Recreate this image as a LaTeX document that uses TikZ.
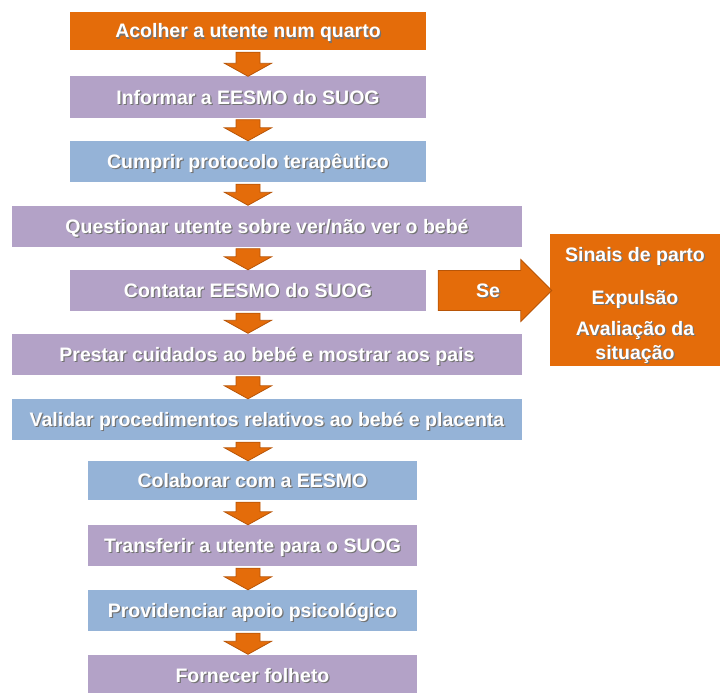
\documentclass[tikz,border=0pt]{standalone}
\usepackage{fontspec}
\setmainfont{Liberation Sans}
\usetikzlibrary{calc}

\definecolor{laranja}{HTML}{E46C0A}
\definecolor{laranjaesc}{HTML}{B85507}
\definecolor{lilas}{HTML}{B3A2C7}
\definecolor{azul}{HTML}{95B3D7}

% texto branco com sombra
\newcommand\shtxt[1]{\makebox[0pt][l]{\hspace{1.2pt}\raisebox{-1.2pt}{\color{black!55}#1}}#1}

% seta larga para baixo entre duas caixas
\newcommand\setabaixo[2]{%
  \path[seta] let \p1=(#1.south), \p2=(#2.north) in
    (236pt,\y1-2pt) -- (260pt,\y1-2pt) -- (260pt,\y2+13pt) -- (271.5pt,\y2+13pt)
    -- (248pt,\y2) -- (224.5pt,\y2+13pt) -- (236pt,\y2+13pt) -- cycle;}

\tikzset{
  letra/.style={text=white, font=\bfseries\fontsize{19.5}{22}\selectfont},
  caixa/.style={letra, fill=#1, minimum height=41pt, inner sep=0pt,
    text height=14pt, text depth=0pt},
  larga/.style={minimum width=510pt},
  media/.style={minimum width=356pt},
  curta/.style={minimum width=329pt},
  seta/.style={fill=laranja, draw=laranjaesc, line width=0.8pt, line join=miter}
}

\begin{document}
\begin{tikzpicture}[x=1pt, y=-1pt]
  \useasboundingbox (0,0) rectangle (720,693);
  % caixas do fluxo
  \node[caixa=laranja, media, minimum height=38pt] (acolher) at (248,31) {\shtxt{Acolher a utente num quarto}};
  \node[caixa=lilas, media] (informar) at (248,97) {\shtxt{Informar a EESMO do SUOG}};
  \node[caixa=azul, media] (cumprir) at (248,161.5) {\shtxt{Cumprir protocolo terapêutico}};
  \node[caixa=lilas, larga] (questionar) at (267,226) {\shtxt{Questionar utente sobre ver/não ver o bebé}};
  \node[caixa=lilas, media] (contatar) at (248,290.5) {\shtxt{Contatar EESMO do SUOG}};
  \node[caixa=lilas, larga] (prestar) at (267,354) {\shtxt{Prestar cuidados ao bebé e mostrar aos pais}};
  \node[caixa=azul, larga] (validar) at (267,419.5) {\shtxt{Validar procedimentos relativos ao bebé e placenta}};
  \node[caixa=azul, curta, minimum height=39pt] (colaborar) at (252.5,480.5) {\shtxt{Colaborar com a EESMO}};
  \node[caixa=lilas, curta] (transferir) at (252.5,545.5) {\shtxt{Transferir a utente para o SUOG}};
  \node[caixa=azul, curta] (apoio) at (252.5,610.5) {\shtxt{Providenciar apoio psicológico}};
  \node[caixa=lilas, curta] (folheto) at (252.5,675) {\shtxt{Fornecer folheto}};
  % caixa lateral
  \node[fill=laranja, minimum width=170pt, minimum height=132pt] (sinais) at (635,300) {};
  \node[letra, align=center] (sinaistxt) at (635,306)
    {\shtxt{Sinais de parto}\\[21pt]\shtxt{Expulsão}\\[9pt]\shtxt{Avaliação da}\\[2pt]\shtxt{situação}};
  % setas
  \foreach \a/\b in {acolher/informar, informar/cumprir, cumprir/questionar, questionar/contatar,
      contatar/prestar, prestar/validar, validar/colaborar, colaborar/transferir,
      transferir/apoio, apoio/folheto}
    \setabaixo{\a}{\b};
  \path[seta] let \p1=(contatar.east), \p2=(sinais.west) in
    (\x1+12pt,\y1+20pt) -- (\x2-29pt,\y1+20pt) -- (\x2-29pt,\y1+31pt) -- (\x2+2pt,\y1)
    -- (\x2-29pt,\y1-31pt) -- (\x2-29pt,\y1-20pt) -- (\x1+12pt,\y1-20pt) -- cycle;
  \node[letra, text height=14pt, text depth=0pt] (se) at (488,290) {\shtxt{Se}};
\end{tikzpicture}
\end{document}
